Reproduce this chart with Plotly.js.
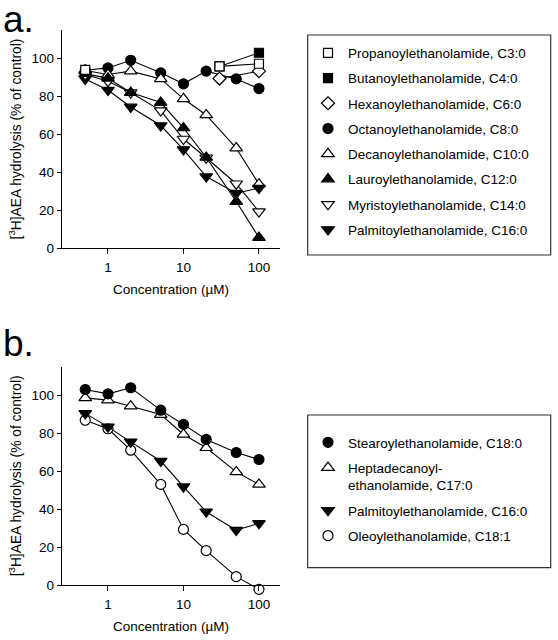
<!DOCTYPE html>
<html>
<head>
<meta charset="utf-8">
<script src="https://cdn.plot.ly/plotly-3.0.1.min.js"></script>
<style>html,body{margin:0;padding:0;background:#fff;}#chart{width:558px;height:640px;}</style>
</head>
<body>
<div id="chart"></div>
<script>
// ---- data ----
const conc = [0.5, 1, 2, 5, 10, 20, 50, 100];
const concHigh = [30, 100];
const propX = [0.5, 1, 30, 100];
const propanoyl = [94, null, 95.8, 97.2];
const butanoyl = [95.8, 103];
const hexanoyl = [89.4, 93.3];
const octanoyl = [93.8, 95, 99, 92.4, 86.6, 93.3, 89.2, 84.1];
const decanoyl = [93.6, 91.5, 93.3, 89.2, 78.7, 70.2, 52.7, 33.7];
const lauroyl = [92, 89.5, 82, 76.7, 63.3, 47.8, 24.5, 5.5];
const myristoyl = [91.5, 88, 82, 72.5, 57.5, 47.6, 33.9, 19.2];
const palmitoylA = [89.2, 83.3, 74.4, 64.6, 51.9, 37.7, 28.9, 31.6];

const stearoyl = [103, 100.7, 103.9, 92.1, 84.6, 76.7, 69.8, 66.1];
const heptadecanoyl = [98.6, 97.4, 94.2, 89.8, 79.3, 72.3, 59.6, 53];
const palmitoylB = [90.4, 83.3, 75.4, 65.3, 51.8, 38.6, 28.9, 32.5];
const oleoyl = [86.8, 82.3, 71, 53, 29.3, 18.1, 4.4, -2.3];

const namesA = ['Propanoylethanolamide, C3:0','Butanoylethanolamide, C4:0','Hexanoylethanolamide, C6:0',
  'Octanoylethanolamide, C8:0','Decanoylethanolamide, C10:0','Lauroylethanolamide, C12:0',
  'Myristoylethanolamide, C14:0','Palmitoylethanolamide, C16:0'];
const namesB = ['Stearoylethanolamide, C18:0','Heptadecanoyl-<br>ethanolamide, C17:0',
  'Palmitoylethanolamide, C16:0','Oleoylethanolamide, C18:1'];
const tickVals = [1, 10, 100];
const tickText = ['1', '10', '100'];
const yTicks = [0, 20, 40, 60, 80, 100];

// ---- styles ----
const FONT = 'Liberation Sans, Arial, Helvetica, sans-serif';
const sym = {
  oSq: {symbol:'square', color:'#fff', size:9},
  fSq: {symbol:'square', color:'#000', size:9},
  oDi: {symbol:'diamond', color:'#fff', size:10},
  fCi: {symbol:'circle', color:'#000', size:10},
  oCi: {symbol:'circle', color:'#fff', size:10},
  oTu: {symbol:'triangle-up', color:'#fff', size:11},
  fTu: {symbol:'triangle-up', color:'#000', size:11},
  oTd: {symbol:'triangle-down', color:'#fff', size:11},
  fTd: {symbol:'triangle-down', color:'#000', size:11}
};
function mk(s){ return {symbol:s.symbol, color:s.color, size:s.size, line:{color:'#000', width:1.2}}; }
function series(x, y, s, xa, ya){
  return {x:x, y:y, type:'scatter', mode:'lines+markers', xaxis:xa, yaxis:ya,
    line:{color:'#000', width:1.1}, marker:mk(s), showlegend:false, cliponaxis:false,
    connectgaps:false, hoverinfo:'skip'};
}
function legItem(name, s, leg, i){
  return {x:[null], y:[null], type:'scatter', mode:'markers', name:name, marker:mk(s),
    legend:leg, legendgroup:leg+'g'+i, showlegend:true,
    xaxis:leg==='legend'?'x':'x2', yaxis:leg==='legend'?'y':'y3'};
}

const symsA = [sym.oSq, sym.fSq, sym.oDi, sym.fCi, sym.oTu, sym.fTu, sym.oTd, sym.fTd];
const symsB = [sym.fCi, sym.oTu, sym.fTd, sym.oCi];

const traces = [
  series(conc, octanoyl, sym.fCi, 'x', 'y'),
  series(conc, decanoyl, sym.oTu, 'x', 'y'),
  series(conc, palmitoylA, sym.fTd, 'x', 'y'),
  series(conc, myristoyl, sym.oTd, 'x', 'y'),
  series(conc, lauroyl, sym.fTu, 'x', 'y'),
  series(concHigh, hexanoyl, sym.oDi, 'x', 'y'),
  series(concHigh, butanoyl, sym.fSq, 'x', 'y'),
  series(propX, propanoyl, sym.oSq, 'x', 'y'),
  series(conc, oleoyl, sym.oCi, 'x2', 'y2'),
  series(conc, palmitoylB, sym.fTd, 'x2', 'y2'),
  series(conc, heptadecanoyl, sym.oTu, 'x2', 'y2'),
  series(conc, stearoyl, sym.fCi, 'x2', 'y2')
];
namesA.forEach((n,i)=>traces.push(legItem(n, symsA[i], 'legend', i)));
namesB.forEach((n,i)=>traces.push(legItem(n, symsB[i], 'legend2', i)));

const W = 558, H = 640;
const xDom = [62/W, 280/W];
const xRange = [Math.log10(0.246), Math.log10(190)];
const tickFont = {family:FONT, size:13.5, color:'#000'};
function xa(anchor){
  return {type:'log', domain:xDom, range:xRange, anchor:anchor, tickvals:tickVals, ticktext:tickText,
    ticks:'outside', ticklen:5, tickwidth:1, tickcolor:'#000', showline:true, linecolor:'#000', linewidth:1.3,
    showgrid:false, zeroline:false, tickfont:tickFont, ticklabelstandoff:1,
    title:{text:'Concentration (µM)', font:{family:FONT, size:13.5, color:'#000'}, standoff:11},
    automargin:false, fixedrange:true};
}
function ya(anchor, dom){
  return {domain:dom, range:[0,115], anchor:anchor, tickvals:yTicks,
    ticks:'outside', ticklen:4, tickwidth:1, tickcolor:'#000', showline:true, linecolor:'#000', linewidth:1.3,
    showgrid:false, zeroline:false, tickfont:tickFont,
    title:{text:'[<sup>3</sup>H]AEA hydrolysis (% of control)', font:{family:FONT, size:13.8, color:'#000'}, standoff:6},
    automargin:false, fixedrange:true};
}
function box(x0,y0,x1,y1){
  return {type:'rect', xref:'paper', yref:'paper', x0:x0/W, x1:x1/W, y0:1-y1/H, y1:1-y0/H,
    line:{color:'#333', width:1.2}, fillcolor:'rgba(0,0,0,0)'};
}
const legStyle = {font:{family:FONT, size:13.5, color:'#000'}, bgcolor:'rgba(0,0,0,0)', borderwidth:0,
  xanchor:'left', yanchor:'top', tracegroupgap:4.7, valign:'top', itemclick:false, itemdoubleclick:false};

// panel b: data axis extends slightly below 0 so the point below 0 stays visible
const bTop = 366.7, bZero = 585, pxPerUnit = (bZero - bTop) / 115, bMin = -4;
const bBottom = bZero - bMin * pxPerUnit;
const yaxis2 = {domain:[1-bBottom/H, 1-bTop/H], range:[bMin,115], anchor:'x2', visible:false, fixedrange:true};

const layout = {
  width:W, height:H, margin:{l:0, r:0, t:0, b:0}, paper_bgcolor:'#fff', plot_bgcolor:'rgba(0,0,0,0)',
  font:{family:FONT, color:'#000'},
  xaxis: xa('y'), yaxis: ya('x', [1-248/H, 1-30/H]),
  xaxis2: xa('y3'), yaxis2: yaxis2, yaxis3: ya('x2', [1-bZero/H, 1-bTop/H]),
  legend: Object.assign({x:308/W, y:1-37.5/H}, legStyle),
  legend2: Object.assign({x:308/W, y:1-427/H}, legStyle),
  shapes:[box(307.7,35,550.7,255), box(307.7,415,550.7,567.7)],
  annotations:[
    {text:'a.', xref:'paper', yref:'paper', x:1/W, y:1-(-3)/H, xanchor:'left', yanchor:'top', showarrow:false,
      font:{family:FONT, size:37, color:'#000'}},
    {text:'b.', xref:'paper', yref:'paper', x:1/W, y:1-321/H, xanchor:'left', yanchor:'top', showarrow:false,
      font:{family:FONT, size:37, color:'#000'}}
  ],
  hovermode:false
};
Plotly.newPlot('chart', traces, layout, {staticPlot:true, displayModeBar:false});
</script>
</body>
</html>
